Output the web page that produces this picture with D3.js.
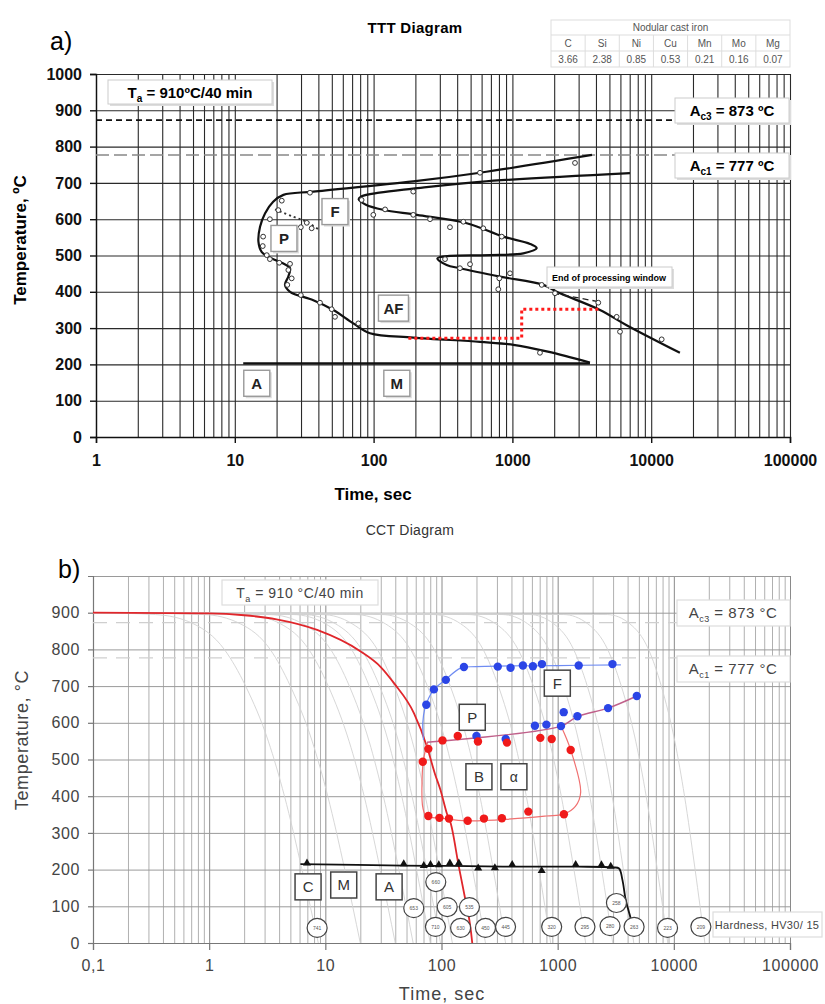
<!DOCTYPE html>
<html>
<head>
<meta charset="utf-8">
<script src="https://cdn.jsdelivr.net/npm/d3@7"></script>
<style>
  body { margin: 0; background: #fff; }
  text { font-family: "Liberation Sans", Arial, sans-serif; }
</style>
</head>
<body>
<div id="vis"></div>
<script>
// ---------- a) TTT diagram data ----------
const timeTicksA = [1, 10, 100, 1000, 10000, 100000];
const tempTicksA = [0, 100, 200, 300, 400, 500, 600, 700, 800, 900, 1000];
const alloyElements = ["C", "Si", "Ni", "Cu", "Mn", "Mo", "Mg"];
const alloyContent = ["3.66", "2.38", "0.85", "0.53", "0.21", "0.16", "0.07"];

// [time s, temperature C]
const tttOuter = [[3745, 777], [584, 728], [193, 704], [36.8, 676], [22.4, 667], [18.9, 648], [16.5, 616],
  [15.2, 579], [14.8, 538], [15.6, 510], [18.4, 492], [22.4, 478], [25, 465], [24.3, 442], [23, 419],
  [25, 400], [36.8, 377], [51.3, 350], [71.4, 313], [94.2, 286], [193, 274], [584, 262], [1016, 254],
  [1800, 235], [3620, 205]];
const tttInner = [[7030, 727], [584, 703], [192, 684], [110, 673], [82, 663], [78, 655], [88, 640],
  [117, 626], [205, 612], [469, 589], [860, 552], [1340, 532], [1497, 520], [1198, 506], [690, 501],
  [355, 499], [288, 492], [336, 474], [419, 465], [814, 442], [1670, 419], [2084, 400], [4276, 350],
  [6650, 308], [16100, 232]];
const tttMs = [[11.5, 203], [3620, 203]];
const tttPearliteEnd = [[19.5, 627], [26.3, 607], [32.9, 593], [40, 572]];
const tttWindow = [[178, 272], [1167, 272], [1167, 352], [4276, 352]];
const tttWindowEnd = [[1963, 396], [4300, 372]];
const tttPoints = [[34.8, 673], [21.8, 651], [20.6, 625], [17.9, 600], [16, 552], [15.9, 526], [17, 501],
  [17.9, 490], [20.9, 480], [25, 477], [24.3, 460], [25.7, 437], [23.9, 419], [29.9, 391], [41.1, 370],
  [49.9, 352], [52.7, 331], [77.6, 313], [33, 590], [29.9, 578], [35.8, 575], [82, 653], [99.5, 612],
  [121, 627], [193, 676], [193, 612], [255, 600], [355, 578], [443, 593], [327, 490], [419, 465],
  [617, 575], [838, 552], [495, 476], [805, 437], [961, 451], [791, 407], [1626, 419], [2028, 396],
  [4156, 370], [5640, 331], [5960, 290], [11900, 269], [1580, 232], [2825, 755], [584, 728]];
const tttPhases = [["P", 22.6, 547], ["F", 52.7, 621], ["AF", 139, 355], ["A", 14.4, 148], ["M", 147, 148]];

// ---------- b) CCT diagram data ----------
const timeTicksB = [0.1, 1, 10, 100, 1000, 10000, 100000];
const tempTicksB = [0, 100, 200, 300, 400, 500, 600, 700, 800, 900];
const tempGridB = [0, 100, 200, 300, 400, 500, 600, 700, 800, 900, 1000];

const cctRedCurve = [[0.1, 900], [1, 898], [2, 893], [3.8, 882], [8.5, 853], [20, 795], [30, 752],
  [39, 708], [58, 626], [75, 535], [88, 460], [98, 417], [112, 350], [120, 326], [141, 208],
  [160, 120], [178, 40], [184, 0]];
const cctGreyCurves = [
  [[0.1, 900], [0.345, 895], [0.73, 870], [1.35, 800], [2.06, 700], [3.23, 550], [4.45, 400], [6.3, 200], [8.7, 0]],
  [[0.1, 900], [0.9, 895], [1.85, 870], [3.35, 800], [5.0, 700], [7.7, 550], [10.5, 400], [14.7, 200], [20, 0]],
  [[0.1, 900], [2.06, 895], [4.1, 870], [7.2, 800], [10.6, 700], [16, 550], [21.6, 400], [29.7, 200], [40, 0]],
  [[0.1, 900], [3.3, 895], [6.4, 870], [11.1, 800], [16.1, 700], [23.8, 550], [31.6, 400], [42.9, 200], [57, 0]],
  [[0.1, 900], [5.3, 895], [10, 870], [16.8, 800], [23.9, 700], [34.8, 550], [45.5, 400], [61, 200], [80, 0]],
  [[0.1, 900], [6.5, 895], [12.2, 870], [20.5, 800], [29.3, 700], [42.6, 550], [55.8, 400], [74.7, 200], [98, 0]],
  [[0.1, 900], [9.4, 895], [17, 870], [28, 800], [39.2, 700], [56, 550], [72.5, 400], [95.8, 200], [124, 0]],
  [[0.1, 900], [18.1, 895], [32.8, 870], [53.9, 800], [75.6, 700], [108, 550], [140, 400], [185, 200], [239, 0]],
  [[0.1, 900], [30.7, 895], [54, 870], [86.4, 800], [119, 700], [167, 550], [214, 400], [279, 200], [356, 0]],
  [[0.1, 900], [85, 895], [146, 870], [228, 800], [309, 700], [426, 550], [537, 400], [690, 200], [871, 0]],
  [[0.1, 900], [171, 895], [292, 870], [456, 800], [618, 700], [851, 550], [1074, 400], [1381, 200], [1742, 0]],
  [[0.1, 900], [332, 895], [551, 870], [840, 800], [1120, 700], [1518, 550], [1889, 400], [2394, 200], [2980, 0]],
  [[0.1, 900], [573, 895], [923, 870], [1371, 800], [1799, 700], [2394, 550], [2945, 400], [3674, 200], [4520, 0]],
  [[0.1, 900], [1125, 895], [1811, 870], [2691, 800], [3531, 700], [4698, 550], [5780, 400], [7210, 200], [8870, 0]],
  [[0.1, 900], [2668, 895], [4170, 870], [6055, 800], [7801, 700], [10190, 550], [12364, 400], [15244, 200], [18500, 0]]
];
const cctFerriteLine = [[70, 553], [69, 600], [72, 640], [77, 665], [86, 691], [108, 717], [146, 749],
  [200, 753], [1000, 756], [3500, 758]];
const cctFerriteDots = [[74, 649], [86, 691], [109, 717], [156, 752], [305, 753], [393, 750], [502, 756],
  [612, 754], [732, 760], [1517, 756], [2963, 760]];
const cctPearliteLine = [[75, 547], [1068, 591], [1479, 617], [2716, 640], [4800, 673]];
const cctPearliteDots = [[200, 564], [357, 556], [637, 592], [800, 595], [1068, 591], [1127, 629],
  [1479, 618], [2716, 640], [4800, 673]];
const cctBainiteLoop = [[76, 547], [70, 500], [68, 440], [69, 370], [74, 346], [100, 340], [168, 333],
  [400, 338], [800, 346], [1132, 351], [1420, 372], [1577, 410], [1294, 526], [1068, 591]];
const cctBainiteDots = [[138, 564], [102, 552], [206, 549], [366, 546], [709, 559], [888, 556], [1294, 526],
  [77, 529], [69, 494], [77, 346], [96, 341], [116, 339], [168, 333], [232, 339], [331, 340],
  [559, 358], [1132, 351]];
const cctMsLine = [[6.1, 215], [47, 211], [120, 210], [400, 208], [1500, 208], [3000, 206], [3377, 203],
  [3610, 172], [3855, 117], [4256, 67], [4520, 30]];
const cctMsMarks = [[6.95, 215], [47.3, 213], [70.4, 208], [80.4, 211], [94.8, 210], [118, 215],
  [141, 215], [207, 201], [288, 202], [406, 211], [728, 194], [1429, 211], [2382, 210], [2864, 206]];
const cctHardness = [["741", 8.5, 41], ["653", 57.7, 95], ["660", 89.3, 166], ["605", 112, 98],
  ["535", 174, 98], ["710", 88.7, 44], ["630", 146, 41], ["450", 239, 41], ["445", 356, 44],
  ["320", 888, 44], ["295", 1718, 44], ["280", 2825, 46], ["258", 3207, 109], ["263", 4550, 44],
  ["223", 8830, 41], ["209", 17100, 44]];
const cctPhases = [["F", 993, 708], ["P", 184, 615], ["B", 210, 453], ["\u03b1", 420, 453],
  ["C", 7.1, 153], ["M", 14.4, 158], ["A", 35.4, 153]];

// ---------- setup ----------
const width = 825, height = 1004;
const svg = d3.select("#vis").append("svg")
  .attr("width", width).attr("height", height)
  .style("background", "#fff");

const xa = d3.scaleLog().domain([1, 100000]).range([96, 790]);
const ya = d3.scaleLinear().domain([0, 1000]).range([437, 74]);
const xb = d3.scaleLog().domain([0.1, 100000]).range([93, 790]);
const yb = d3.scaleLinear().domain([0, 1000]).range([943, 576]);

const lineA = d3.line().x(d => xa(d[0])).y(d => ya(d[1]));

// small helper for a labelled box
function box(g, cx, cy, w, h, label, opt) {
  g.append("rect").attr("x", cx - w / 2).attr("y", cy - h / 2).attr("width", w).attr("height", h)
    .attr("fill", "#fff").attr("stroke", opt.stroke).attr("stroke-width", opt.sw);
  g.append("text").attr("x", cx).attr("y", cy + opt.fs * 0.36).attr("text-anchor", "middle")
    .attr("font-size", opt.fs).attr("font-weight", opt.fw).attr("fill", opt.fill)
    .attr("font-family", opt.family || null).text(label);
}

// ================= a) TTT =================
const ga = svg.append("g");

ga.append("text").attr("x", 50).attr("y", 50).attr("font-family", "Liberation Serif, Times New Roman, serif")
  .attr("font-size", 25).text("a)");
ga.append("text").attr("x", 415).attr("y", 33).attr("text-anchor", "middle")
  .attr("font-size", 15).attr("font-weight", 700).attr("letter-spacing", 0.3).text("TTT Diagram");

// composition table
const tab = ga.append("g").attr("font-size", 10).attr("fill", "#555");
const tx0 = 551, tw = 239, colW = tw / 7;
tab.append("rect").attr("x", tx0).attr("y", 20).attr("width", tw).attr("height", 47)
  .attr("fill", "#fff").attr("stroke", "#ddd");
tab.append("line").attr("x1", tx0).attr("x2", tx0 + tw).attr("y1", 35).attr("y2", 35).attr("stroke", "#ddd");
tab.append("line").attr("x1", tx0).attr("x2", tx0 + tw).attr("y1", 51).attr("y2", 51).attr("stroke", "#ddd");
tab.append("text").attr("x", tx0 + tw / 2).attr("y", 31).attr("text-anchor", "middle").text("Nodular cast iron");
alloyElements.forEach((e, i) => {
  if (i > 0) tab.append("line").attr("x1", tx0 + i * colW).attr("x2", tx0 + i * colW)
    .attr("y1", 35).attr("y2", 67).attr("stroke", "#ddd");
  tab.append("text").attr("x", tx0 + (i + 0.5) * colW).attr("y", 47).attr("text-anchor", "middle").text(e);
  tab.append("text").attr("x", tx0 + (i + 0.5) * colW).attr("y", 63).attr("text-anchor", "middle").text(alloyContent[i]);
});

// grid
ga.append("g").attr("transform", "translate(0,437)")
  .call(d3.axisBottom(xa).tickValues(xa.ticks()).tickSize(-(437 - 74)).tickFormat(""))
  .call(g => g.select(".domain").remove())
  .selectAll("line").attr("stroke", "#2a2a2a").attr("stroke-width", 1.1);
ga.append("g").attr("transform", "translate(96,0)")
  .call(d3.axisLeft(ya).tickValues(tempTicksA).tickSize(-(790 - 96)).tickFormat(""))
  .call(g => g.select(".domain").remove())
  .selectAll("line").attr("stroke", "#2a2a2a").attr("stroke-width", 1.1);

// axes
const axA = ga.append("g").attr("transform", "translate(96,0)")
  .call(d3.axisLeft(ya).tickValues(tempTicksA).tickFormat(d3.format("d")).tickSize(6).tickPadding(8));
const axAx = ga.append("g").attr("transform", "translate(0,437)")
  .call(d3.axisBottom(xa).tickValues(timeTicksA).tickFormat(d3.format("d")).tickSize(6).tickPadding(12));
[axA, axAx].forEach(g => {
  g.selectAll("text").attr("font-size", 16).attr("font-weight", 700).attr("fill", "#111")
    .attr("font-family", "Liberation Sans, Arial, sans-serif");
  g.selectAll("line,path").attr("stroke", "#111").attr("stroke-width", 1.4);
});
ga.append("text").attr("x", 373).attr("y", 500).attr("text-anchor", "middle")
  .attr("font-size", 17).attr("font-weight", 700).text("Time, sec");
ga.append("text").attr("transform", "translate(26,240) rotate(-90)").attr("text-anchor", "middle")
  .attr("font-size", 17).attr("font-weight", 700).text("Temperature, \u00baC");

// critical temperatures
ga.append("line").attr("x1", 96).attr("x2", 675).attr("y1", ya(873)).attr("y2", ya(873))
  .attr("stroke", "#111").attr("stroke-width", 1.6).attr("stroke-dasharray", "6,4");
ga.append("line").attr("x1", 96).attr("x2", 675).attr("y1", ya(777)).attr("y2", ya(777))
  .attr("stroke", "#888").attr("stroke-width", 1.6).attr("stroke-dasharray", "13,5");

// curves
const catA = d3.line().x(d => xa(d[0])).y(d => ya(d[1])).curve(d3.curveCatmullRom.alpha(0.5));
ga.append("path").attr("d", catA(tttOuter)).attr("fill", "none").attr("stroke", "#111").attr("stroke-width", 2.2);
ga.append("path").attr("d", catA(tttInner)).attr("fill", "none").attr("stroke", "#111").attr("stroke-width", 2.2);
ga.append("path").attr("d", lineA(tttMs)).attr("fill", "none").attr("stroke", "#111").attr("stroke-width", 2.2);
ga.append("path").attr("d", catA(tttPearliteEnd)).attr("fill", "none").attr("stroke", "#333")
  .attr("stroke-width", 2).attr("stroke-dasharray", "2,3");
ga.append("path").attr("d", lineA(tttWindow)).attr("fill", "none").attr("stroke", "#ff1a1a")
  .attr("stroke-width", 3).attr("stroke-dasharray", "3,3");
ga.append("path").attr("d", lineA(tttWindowEnd)).attr("fill", "none").attr("stroke", "#222")
  .attr("stroke-width", 1.3).attr("stroke-dasharray", "6,4");
ga.selectAll(".ttt-pt").data(tttPoints).join("circle").attr("class", "ttt-pt")
  .attr("cx", d => xa(d[0])).attr("cy", d => ya(d[1])).attr("r", 2.4)
  .attr("fill", "#fff").attr("stroke", "#333").attr("stroke-width", 1);

// annotation boxes
function shadowBox(g, x, y, w, h) {
  g.append("rect").attr("x", x + 2).attr("y", y + 2).attr("width", w).attr("height", h).attr("fill", "#ddd");
  g.append("rect").attr("x", x).attr("y", y).attr("width", w).attr("height", h)
    .attr("fill", "#fff").attr("stroke", "#ccc");
}
shadowBox(ga, 108, 80, 164, 24);
const taA = ga.append("text").attr("x", 190).attr("y", 98).attr("text-anchor", "middle")
  .attr("font-size", 15).attr("font-weight", 700);
taA.append("tspan").text("T");
taA.append("tspan").attr("font-size", 10).attr("dy", 4).text("a");
taA.append("tspan").attr("dy", -4).text(" = 910\u00baC/40 min");

[[873, "c3", 98], [777, "c1", 153]].forEach(([v, sub, y]) => {
  shadowBox(ga, 675, y, 114, 25);
  const t = ga.append("text").attr("x", 732).attr("y", y + 18).attr("text-anchor", "middle")
    .attr("font-size", 15).attr("font-weight", 700);
  t.append("tspan").text("A");
  t.append("tspan").attr("font-size", 10).attr("dy", 4).text(sub);
  t.append("tspan").attr("dy", -4).text(` = ${v} \u00baC`);
});
shadowBox(ga, 547, 267, 125, 20);
ga.append("text").attr("x", 609).attr("y", 281).attr("text-anchor", "middle")
  .attr("font-size", 9).attr("font-weight", 700).text("End of processing window");

tttPhases.forEach(([lab, t, T]) => {
  const w = lab.length > 1 ? 30 : 26;
  ga.append("rect").attr("x", xa(t) - w / 2 + 2).attr("y", ya(T) - 13 + 2).attr("width", w).attr("height", 26).attr("fill", "#ddd");
  box(ga, xa(t), ya(T), w, 26, lab, { stroke: "#999", sw: 1.4, fs: 15, fw: 700, fill: "#222" });
});

// ================= b) CCT =================
const gb = svg.append("g");
gb.append("text").attr("x", 410).attr("y", 535).attr("text-anchor", "middle")
  .attr("font-size", 14).attr("fill", "#333").attr("letter-spacing", 0.3).text("CCT Diagram");
gb.append("text").attr("x", 58).attr("y", 578).attr("font-family", "Liberation Serif, Times New Roman, serif")
  .attr("font-size", 25).text("b)");

// grid
gb.append("g").attr("transform", "translate(0,943)")
  .call(d3.axisBottom(xb).tickValues(xb.ticks()).tickSize(-(943 - 576)).tickFormat(""))
  .call(g => g.select(".domain").remove())
  .selectAll("line")
  .attr("stroke", d => timeTicksB.includes(d) ? "#8a8a8a" : "#b0b0b0").attr("stroke-width", 1);
gb.append("g").attr("transform", "translate(93,0)")
  .call(d3.axisLeft(yb).tickValues(tempGridB).tickSize(-(790 - 93)).tickFormat(""))
  .call(g => g.select(".domain").remove())
  .selectAll("line").attr("stroke", "#9a9a9a").attr("stroke-width", 1);

const axB = gb.append("g").attr("transform", "translate(93,0)")
  .call(d3.axisLeft(yb).tickValues(tempTicksB).tickSize(5).tickPadding(8));
const axBx = gb.append("g").attr("transform", "translate(0,943)")
  .call(d3.axisBottom(xb).tickValues(timeTicksB)
    .tickFormat(d => d < 1 ? "0,1" : d3.format("d")(d)).tickSize(7).tickPadding(10));
[axB, axBx].forEach(g => {
  g.selectAll("text").attr("font-size", 16).attr("fill", "#444").attr("letter-spacing", 0.6)
    .attr("font-family", "Liberation Sans, Arial, sans-serif");
  g.selectAll("line,path").attr("stroke", "#777").attr("stroke-width", 1.2);
});
gb.append("text").attr("x", 442).attr("y", 1000).attr("text-anchor", "middle")
  .attr("font-size", 18).attr("fill", "#444").attr("letter-spacing", 1).text("Time, sec");
gb.append("text").attr("transform", "translate(28,740) rotate(-90)").attr("text-anchor", "middle")
  .attr("font-size", 18).attr("fill", "#444").attr("letter-spacing", 0.6).text("Temperature, \u00b0C");

// critical temperature lines
[873, 777].forEach(v => gb.append("line").attr("x1", 93).attr("x2", 677).attr("y1", yb(v)).attr("y2", yb(v))
  .attr("stroke", "#cfcfcf").attr("stroke-width", 1.3).attr("stroke-dasharray", "14,9"));

// cooling curves
const monoB = d3.line().x(d => xb(d[0])).y(d => yb(d[1])).curve(d3.curveMonotoneX);
const catB = d3.line().x(d => xb(d[0])).y(d => yb(d[1])).curve(d3.curveCatmullRom.alpha(0.5));
gb.selectAll(".cool").data(cctGreyCurves).join("path").attr("class", "cool")
  .attr("d", monoB).attr("fill", "none").attr("stroke", "#d2d2d2").attr("stroke-width", 0.9);
gb.append("path").attr("d", monoB(cctRedCurve)).attr("fill", "none")
  .attr("stroke", "#e0262b").attr("stroke-width", 1.8);

// transformation lines
gb.append("path").attr("d", catB(cctFerriteLine)).attr("fill", "none").attr("stroke", "#6f8cf2").attr("stroke-width", 1.2);
gb.append("path").attr("d", catB(cctBainiteLoop)).attr("fill", "none").attr("stroke", "#f07070").attr("stroke-width", 1.2);
gb.append("path").attr("d", catB(cctPearliteLine)).attr("fill", "none").attr("stroke", "#c0608a").attr("stroke-width", 1.4);

gb.selectAll(".fdot").data(cctFerriteDots.concat(cctPearliteDots)).join("circle").attr("class", "fdot")
  .attr("cx", d => xb(d[0])).attr("cy", d => yb(d[1])).attr("r", 4.2).attr("fill", "#2b45e6");
gb.selectAll(".bdot").data(cctBainiteDots).join("circle").attr("class", "bdot")
  .attr("cx", d => xb(d[0])).attr("cy", d => yb(d[1])).attr("r", 4.2).attr("fill", "#f01a1a");

// martensite start
gb.append("path").attr("d", catB(cctMsLine)).attr("fill", "none").attr("stroke", "#111").attr("stroke-width", 1.8);
gb.selectAll(".ms").data(cctMsMarks).join("path").attr("class", "ms")
  .attr("transform", d => `translate(${xb(d[0])},${yb(d[1]) - 1})`)
  .attr("d", d3.symbol(d3.symbolTriangle, 28)).attr("fill", "#111");

// phase boxes
cctPhases.forEach(([lab, t, T]) => {
  box(gb, xb(t), yb(T), 26, 26, lab, {
    stroke: "#444", sw: 1.5, fs: lab === "\u03b1" ? 14 : 15, fw: 400, fill: "#333",
    family: lab === "\u03b1" ? "Liberation Serif, serif" : null
  });
});

// hardness circles
const hv = gb.selectAll(".hv").data(cctHardness).join("g").attr("class", "hv")
  .attr("transform", d => `translate(${xb(d[1])},${yb(d[2])})`);
hv.append("ellipse").attr("rx", 10).attr("ry", 9.5).attr("fill", "#fff").attr("stroke", "#444").attr("stroke-width", 1.2);
hv.append("text").attr("y", 2).attr("text-anchor", "middle").attr("font-size", 5).attr("fill", "#555").text(d => d[0]);

// annotation boxes
function plainBox(g, x, y, w, h) {
  g.append("rect").attr("x", x).attr("y", y).attr("width", w).attr("height", h)
    .attr("fill", "#fff").attr("stroke", "#ddd").attr("stroke-width", 1.2);
}
plainBox(gb, 222, 580, 156, 25);
const taB = gb.append("text").attr("x", 300).attr("y", 598).attr("text-anchor", "middle")
  .attr("font-size", 14).attr("fill", "#444").attr("letter-spacing", 0.5);
taB.append("tspan").text("T");
taB.append("tspan").attr("font-size", 9).attr("dy", 4).text("a");
taB.append("tspan").attr("dy", -4).text(" = 910 \u00b0C/40 min");
[[873, "c3", 600], [777, "c1", 656]].forEach(([v, sub, y]) => {
  plainBox(gb, 677, y, 113, 26);
  const t = gb.append("text").attr("x", 733).attr("y", y + 18).attr("text-anchor", "middle")
    .attr("font-size", 15).attr("fill", "#444").attr("letter-spacing", 0.5);
  t.append("tspan").text("A");
  t.append("tspan").attr("font-size", 9).attr("dy", 4).text(sub);
  t.append("tspan").attr("dy", -4).text(` = ${v}  \u00b0C`);
});
plainBox(gb, 713, 912, 109, 25);
gb.append("text").attr("x", 767).attr("y", 929).attr("text-anchor", "middle")
  .attr("font-size", 11).attr("fill", "#444").attr("letter-spacing", 0.3).text("Hardness, HV30/ 15");
</script>
</body>
</html>
